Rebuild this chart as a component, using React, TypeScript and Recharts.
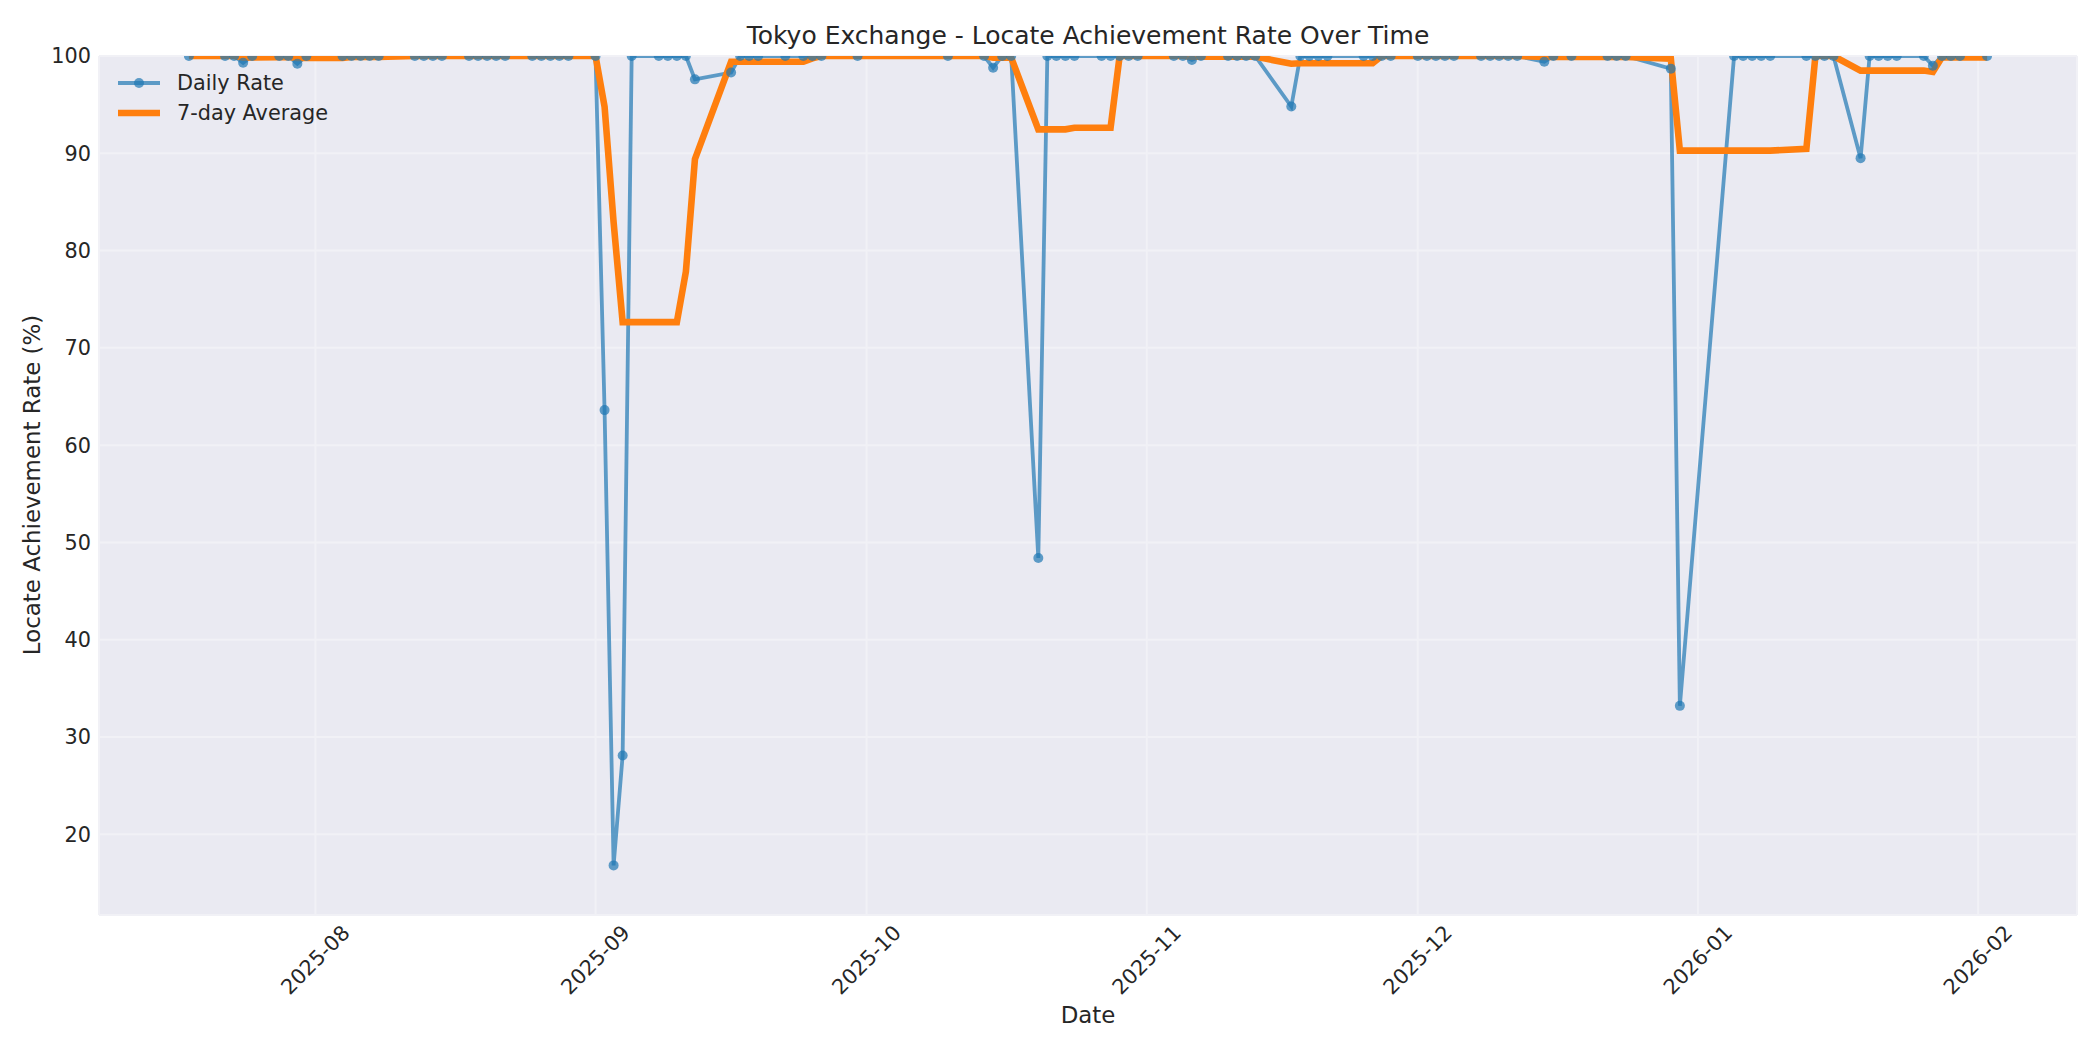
import React from "react";
import { CartesianGrid, Legend, Line, LineChart, XAxis, YAxis } from "recharts";

const FONT = "'DejaVu Sans', sans-serif";
const INK = "#262626";

// trading days with data (Tokyo)
const dates = [
  "2025-07-18", "2025-07-22", "2025-07-23", "2025-07-24", "2025-07-25", "2025-07-28", "2025-07-29", "2025-07-30", "2025-07-31",
  "2025-08-04", "2025-08-05", "2025-08-06", "2025-08-07", "2025-08-08", "2025-08-12", "2025-08-13", "2025-08-14", "2025-08-15",
  "2025-08-18", "2025-08-19", "2025-08-20", "2025-08-21", "2025-08-22", "2025-08-25", "2025-08-26", "2025-08-27", "2025-08-28", "2025-08-29",
  "2025-09-01", "2025-09-02", "2025-09-03", "2025-09-04", "2025-09-05", "2025-09-08", "2025-09-09", "2025-09-10", "2025-09-11", "2025-09-12",
  "2025-09-16", "2025-09-17", "2025-09-18", "2025-09-19", "2025-09-22", "2025-09-24", "2025-09-25", "2025-09-26", "2025-09-30",
  "2025-10-10", "2025-10-14", "2025-10-15", "2025-10-16", "2025-10-17", "2025-10-20", "2025-10-21", "2025-10-22", "2025-10-23", "2025-10-24",
  "2025-10-27", "2025-10-28", "2025-10-29", "2025-10-30", "2025-10-31",
  "2025-11-04", "2025-11-05", "2025-11-06", "2025-11-07", "2025-11-10", "2025-11-11", "2025-11-12", "2025-11-13", "2025-11-17", "2025-11-18",
  "2025-11-19", "2025-11-20", "2025-11-21", "2025-11-25", "2025-11-26", "2025-11-27", "2025-11-28",
  "2025-12-01", "2025-12-02", "2025-12-03", "2025-12-04", "2025-12-05", "2025-12-08", "2025-12-09", "2025-12-10", "2025-12-11", "2025-12-12",
  "2025-12-15", "2025-12-16", "2025-12-18", "2025-12-22", "2025-12-23", "2025-12-24", "2025-12-29", "2025-12-30",
  "2026-01-05", "2026-01-06", "2026-01-07", "2026-01-08", "2026-01-09", "2026-01-13", "2026-01-14", "2026-01-15", "2026-01-16", "2026-01-19",
  "2026-01-20", "2026-01-21", "2026-01-22", "2026-01-23", "2026-01-26", "2026-01-27", "2026-01-28", "2026-01-29", "2026-01-30",
  "2026-02-02",
];

const dailyRate = [
  100, 100, 100, 99.3, 100, 100, 100, 99.2, 100,
  100, 100, 100, 100, 100, 100, 100, 100, 100,
  100, 100, 100, 100, 100, 100, 100, 100, 100, 100,
  100, 63.6, 16.8, 28.1, 100, 100, 100, 100, 100, 97.6,
  98.3, 100, 100, 100, 100, 100, 100, 100, 100,
  100, 100, 98.8, 100, 100, 48.4, 100, 100, 100, 100,
  100, 100, 100, 100, 100,
  100, 100, 99.6, 100, 100, 100, 100, 100, 94.8, 100,
  100, 100, 100, 100, 100, 100, 100,
  100, 100, 100, 100, 100, 100, 100, 100, 100, 100,
  99.4, 100, 100, 100, 100, 100, 98.7, 33.2,
  100, 100, 100, 100, 100, 100, 100, 100, 100, 89.5,
  100, 100, 100, 100, 100, 99.0, 100, 100, 100,
  100,
];

const avgRate = [
  100, 100, 100, 99.83, 99.86, 99.88, 99.9, 99.79, 99.79,
  99.79, 99.89, 99.89, 99.89, 99.89, 100, 100, 100, 100,
  100, 100, 100, 100, 100, 100, 100, 100, 100, 100,
  100, 94.8, 82.91, 72.64, 72.64, 72.64, 72.64, 72.64, 77.84, 89.39,
  99.41, 99.41, 99.41, 99.41, 99.41, 99.41, 99.76, 100, 100,
  100, 100, 99.83, 99.83, 99.83, 92.46, 92.46, 92.46, 92.46, 92.63,
  92.63, 92.63, 100, 100, 100,
  100, 100, 99.94, 99.94, 99.94, 99.94, 99.94, 99.94, 99.2, 99.26,
  99.26, 99.26, 99.26, 99.26, 99.26, 100, 100,
  100, 100, 100, 100, 100, 100, 100, 100, 100, 100,
  99.91, 99.91, 99.91, 99.91, 99.91, 99.91, 99.73, 90.27,
  90.27, 90.27, 90.27, 90.27, 90.27, 90.46, 100, 100, 100, 98.5,
  98.5, 98.5, 98.5, 98.5, 98.5, 98.36, 99.86, 99.86, 99.86,
  99.86,
];

const seriesNames = ["Daily Rate", "7-day Average"];
const monthTicks = ["2025-08-01", "2025-09-01", "2025-10-01", "2025-11-01", "2025-12-01", "2026-01-01", "2026-02-01"];
const yTicks = [20, 30, 40, 50, 60, 70, 80, 90, 100];

const toTime = (s: string) => new Date(s + "T00:00:00Z").getTime();

const data = dates.map((d, i) => ({ t: toTime(d), daily: dailyRate[i], avg: avgRate[i] }));

const tMin = data[0].t;
const tMax = data[data.length - 1].t;
const pad = (tMax - tMin) * 0.05;

function XTick(props: any) {
  const { x, y, payload } = props;
  const cy = y + 45;
  const label = new Date(payload.value).toISOString().slice(0, 7);
  return (
    <text
      x={x}
      y={cy}
      transform={`rotate(-45 ${x} ${cy})`}
      textAnchor="middle"
      dominantBaseline="central"
      fontSize={20.8}
      fontFamily={FONT}
      fill={INK}
    >
      {label}
    </text>
  );
}

function LegendBox(props: any) {
  // keep plotting order, not alphabetical
  const items = [...(props.payload || [])].sort(
    (a: any, b: any) => seriesNames.indexOf(a.value) - seriesNames.indexOf(b.value)
  );
  return (
    <svg width={260} height={70} style={{ display: "block" }}>
      {items.map((entry: any, i: number) => {
        const cy = 23 + i * 30;
        const isDaily = entry.value === seriesNames[0];
        return (
          <g key={entry.value}>
            <line
              x1={8}
              x2={50}
              y1={cy}
              y2={cy}
              stroke={entry.color}
              strokeOpacity={isDaily ? 0.7 : 1}
              strokeWidth={isDaily ? 3.8 : 6.6}
            />
            {isDaily && <circle cx={29} cy={cy} r={5} fill={entry.color} fillOpacity={0.7} />}
            <text x={67} y={cy} dominantBaseline="central" fontSize={20.8} fontFamily={FONT} fill={INK}>
              {entry.value}
            </text>
          </g>
        );
      })}
    </svg>
  );
}

export default function App() {
  return (
    <div style={{ position: "absolute", left: 0, top: 0, width: 2100, height: 1050, background: "#fff" }}>
      <LineChart width={2100} height={1050} data={data} margin={{ top: 56, right: 23, bottom: 0, left: 0 }}>
        <CartesianGrid fill="#EAEAF2" stroke="#F1F1F6" strokeWidth={2} />
        <XAxis
          type="number"
          dataKey="t"
          domain={[tMin - pad, tMax + pad]}
          allowDataOverflow
          ticks={monthTicks.map(toTime)}
          interval={0}
          tick={<XTick />}
          tickLine={false}
          axisLine={false}
          tickSize={0}
          tickMargin={0}
          height={135}
        />
        <YAxis
          type="number"
          domain={[11.7, 100]}
          allowDataOverflow
          ticks={yTicks}
          interval={0}
          width={99}
          tickLine={false}
          axisLine={false}
          tickSize={0}
          tickMargin={8}
          tick={{ fill: INK, fontSize: 20.8, fontFamily: FONT }}
        />
        <Legend
          layout="vertical"
          align="center"
          verticalAlign="middle"
          content={<LegendBox />}
          wrapperStyle={{ position: "absolute", left: 110, top: 60, width: 260, height: 70 }}
        />
        <Line
          type="linear"
          dataKey="daily"
          name={seriesNames[0]}
          stroke="#1f77b4"
          strokeOpacity={0.7}
          strokeWidth={3.8}
          dot={{ r: 5, fill: "#1f77b4", fillOpacity: 0.7, stroke: "none" }}
          activeDot={false}
          isAnimationActive={false}
        />
        <Line
          type="linear"
          dataKey="avg"
          name={seriesNames[1]}
          stroke="#ff7f0e"
          strokeWidth={6.6}
          dot={false}
          activeDot={false}
          isAnimationActive={false}
        />
      </LineChart>
      <svg
        width={2100}
        height={1050}
        style={{ position: "absolute", left: 0, top: 0, pointerEvents: "none" }}
      >
        <text x={1088} y={35} textAnchor="middle" dominantBaseline="central" fontSize={25} fontFamily={FONT} fill={INK}>
          Tokyo Exchange - Locate Achievement Rate Over Time
        </text>
        <text x={1088} y={1015} textAnchor="middle" dominantBaseline="central" fontSize={22.9} fontFamily={FONT} fill={INK}>
          Date
        </text>
        <text
          x={32}
          y={485}
          transform="rotate(-90 32 485)"
          textAnchor="middle"
          dominantBaseline="central"
          fontSize={22.9}
          fontFamily={FONT}
          fill={INK}
        >
          Locate Achievement Rate (%)
        </text>
      </svg>
    </div>
  );
}
